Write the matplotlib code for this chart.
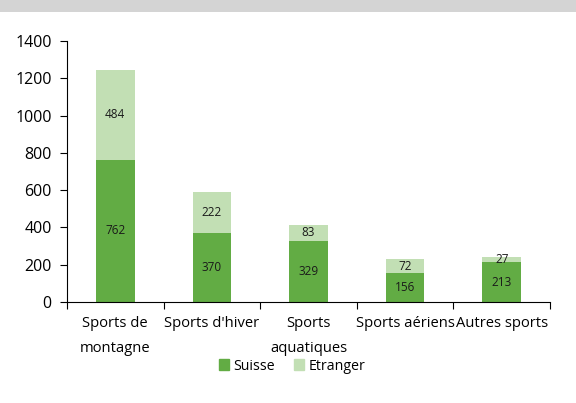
import matplotlib
matplotlib.use("Agg")
import matplotlib.pyplot as plt
from matplotlib.patches import Rectangle, Patch
import numpy as np

categories = ["Sports de\nmontagne", "Sports d'hiver", "Sports\naquatiques", "Sports aériens", "Autres sports"]
suisse = [762, 370, 329, 156, 213]
etranger = [484, 222, 83, 72, 27]
yticks = [0, 200, 400, 600, 800, 1000, 1200, 1400]

plt.rcParams['font.family'] = ['Open Sans', 'DejaVu Sans']

c_dark = '#62AC44'
c_light = '#C2DFB4'

fig = plt.figure(figsize=(5.76, 4.03), dpi=100)
fig.patches.append(Rectangle((0, 1 - 12/403), 1, 12/403, transform=fig.transFigure,
                             facecolor='#D4D4D4', edgecolor='none', zorder=0))
ax = fig.add_axes([67/576, 1 - 302/403, (550-67)/576, (302-41)/403])

x = np.arange(len(categories))
w = 0.4
ax.bar(x, suisse, w, color=c_dark, label='Suisse', zorder=2)
ax.bar(x, etranger, w, bottom=suisse, color=c_light, label='Etranger', zorder=2)
for i in range(len(x)):
    ax.text(x[i], suisse[i]/2, str(suisse[i]), ha='center', va='center', fontsize=8.5, color='#1a1a1a')
    ax.text(x[i], suisse[i] + etranger[i]/2, str(etranger[i]), ha='center', va='center', fontsize=8.5, color='#1a1a1a')

ax.set_xlim(-0.5, len(categories) - 0.5)
ax.set_ylim(0, 1400)
ax.set_yticks(yticks)
ax.tick_params(axis='y', labelsize=11.5, length=5, width=0.8, direction='out', pad=6)
ax.set_xticks(np.arange(-0.5, len(categories), 1.0))
ax.set_xticklabels([])
ax.tick_params(axis='x', which='major', length=5, width=0.8, direction='out')
ax.set_xticks(x, minor=True)
ax.set_xticklabels(categories, minor=True, fontsize=10.6, linespacing=1.95)
ax.tick_params(axis='x', which='minor', length=0, pad=10)
for s in ['top', 'right']:
    ax.spines[s].set_visible(False)
for s in ['left', 'bottom']:
    ax.spines[s].set_linewidth(0.8)

handles = [Patch(color=c_dark, label='Suisse'), Patch(color=c_light, label='Etranger')]
fig.legend(handles=handles, loc='center', bbox_to_anchor=(292/576, 1 - 366/403), ncol=2,
           frameon=False, fontsize=10.2, handlelength=0.75, handleheight=0.75, handletextpad=0.3,
           columnspacing=1.3)

fig.savefig('out.png', dpi=100)
